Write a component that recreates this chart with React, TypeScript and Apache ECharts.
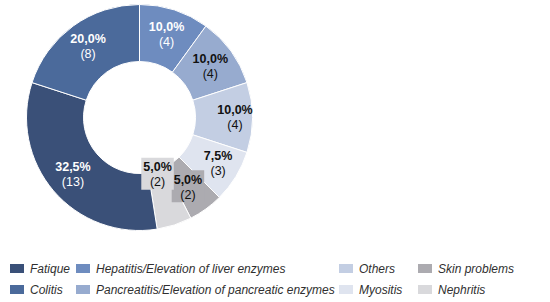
import React, { useEffect, useRef } from "react";
import * as echarts from "echarts";

const categories = [
  "Hepatitis/Elevation of liver enzymes",
  "Pancreatitis/Elevation of pancreatic enzymes",
  "Others",
  "Myositis",
  "Skin problems",
  "Nephritis",
  "Fatique",
  "Colitis",
];
const counts = [4, 4, 4, 3, 2, 2, 13, 8];
const colors = ["#6e8cbf", "#97abcf", "#c3cee3", "#dfe4ef", "#acabb0", "#d9d9dc", "#3a5078", "#4b6a9b"];
const whiteLabel = [true, false, false, false, false, false, true, true];
const legendColumns = [
  ["Fatique", "Colitis"],
  ["Hepatitis/Elevation of liver enzymes", "Pancreatitis/Elevation of pancreatic enzymes"],
  ["Others", "Myositis"],
  ["Skin problems", "Nephritis"],
];
const legendLefts = [8, 74, 337, 416];

export default function App() {
  const ref = useRef<HTMLDivElement>(null);
  useEffect(() => {
    const chart = echarts.init(ref.current!, null, { renderer: "svg" });
    const total = counts.reduce((a, b) => a + b, 0);
    const data = categories.map((name, i) => {
      const col = whiteLabel[i] ? "#ffffff" : "#111111";
      const item: any = {
        name,
        value: counts[i],
        itemStyle: { color: colors[i] },
        label: {
          rich: {
            p: { fontFamily: "Liberation Sans, Arial", fontSize: 12.5, fontWeight: "bold", color: col, lineHeight: 15 },
            c: { fontFamily: "Liberation Sans, Arial", fontSize: 12.5, color: col, lineHeight: 15 },
          },
        },
      };
      if (name === "Skin problems" || name === "Nephritis") {
        item.label.backgroundColor = colors[i];
        item.label.padding = [2, 2, 0, 2];
      }
      return item;
    });
    chart.setOption({
      animation: false,
      legend: legendColumns.map((col, k) => ({
        orient: "vertical",
        left: legendLefts[k],
        top: 262,
        data: col,
        itemWidth: 16,
        itemHeight: 11,
        itemGap: 8,
        icon: "rect",
        padding: 0,
        selectedMode: false,
        textStyle: { fontFamily: "Liberation Sans, Arial", fontSize: 12, fontStyle: "italic", color: "#303030" },
      })),
      series: [
        {
          type: "pie",
          center: [139.5, 117.5],
          radius: [56, 113],
          startAngle: 90,
          clockwise: true,
          itemStyle: { borderColor: "#ffffff", borderWidth: 1 },
          label: {
            position: "inside",
            formatter: (p: any) =>
              "{p|" + ((p.value / total) * 100).toFixed(1).replace(".", ",") + "%}\n{c|(" + p.value + ")}",
          },
          labelLayout: (params: any) => {
            if (params.dataIndex === 5) return { dx: -9, dy: -27 };
            if (params.dataIndex === 4) return { dx: -3, dy: -2 };
            if (params.dataIndex === 2) return { dx: 8 };
            if (params.dataIndex === 3) return { dx: 4 };
            return {};
          },
          emphasis: { disabled: true },
          data,
        },
      ],
    });
    return () => chart.dispose();
  }, []);
  return <div ref={ref} style={{ position: "absolute", left: 0, top: 0, width: 550, height: 302 }} />;
}
